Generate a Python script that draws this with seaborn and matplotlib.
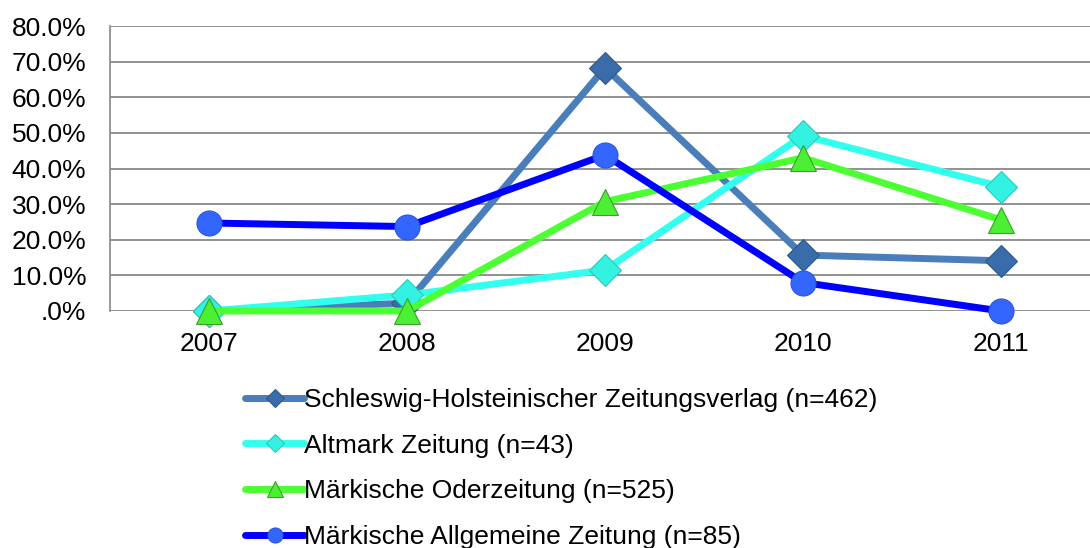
import numpy as np
import pandas as pd
import matplotlib
matplotlib.use("Agg")
import matplotlib.pyplot as plt
import seaborn as sns
from matplotlib.ticker import FuncFormatter, FixedLocator

years = [2007, 2008, 2009, 2010, 2011]
shz = [0.0, 0.022, 0.683, 0.157, 0.141]
altmark = [0.0, 0.045, 0.115, 0.492, 0.349]
oder = [0.0, 0.0, 0.307, 0.430, 0.256]
maz = [0.247, 0.237, 0.438, 0.080, 0.0]

labels = [
    "Schleswig-Holsteinischer Zeitungsverlag (n=462)",
    "Altmark Zeitung (n=43)",
    "Märkische Oderzeitung (n=525)",
    "Märkische Allgemeine Zeitung (n=85)",
]

# line colour, marker, marker face, marker edge, marker size
styles = [
    ("#4A7EBB", "D", "#3A6CA9", "#2F5A8E", 16),
    ("#33FFEE", "D", "#33F2E2", "#2BC9BC", 16),
    ("#4CFF33", "^", "#4CF033", "#3C9E2C", 19),
    ("#0000FF", "o", "#3366FF", "#2A55D8", 18),
]

sns.set_style("white")
plt.rcParams["font.family"] = ["Liberation Sans", "DejaVu Sans"]
plt.rcParams["text.color"] = "black"

fig = plt.figure(figsize=(10.9, 5.48), dpi=100)
ax = fig.add_axes([110 / 1090, 1 - 311 / 548, 990 / 1090, 285 / 548])

for vals, lab, (lc, mk, mf, me, ms) in zip([shz, altmark, oder, maz], labels, styles):
    sns.lineplot(
        x=years,
        y=vals,
        ax=ax,
        color=lc,
        linewidth=5,
        marker=mk,
        markersize=ms,
        markerfacecolor=mf,
        markeredgecolor=me,
        markeredgewidth=0.8,
        label=lab,
        clip_on=False,
        zorder=3,
    )

ax.set_xlim(2006.5, 2011.5)
ax.set_ylim(0, 0.8)
ax.set_yticks(np.arange(0, 0.81, 0.1))
ax.yaxis.set_major_formatter(
    FuncFormatter(lambda v, p: ".0%" if abs(v) < 1e-9 else f"{v * 100:.1f}%")
)
ax.set_xticks(years)
ax.set_xticklabels([str(y) for y in years])
ax.xaxis.set_minor_locator(FixedLocator(np.arange(2006.5, 2011.6, 1.0)))
ax.tick_params(axis="x", which="major", length=0, pad=15, labelsize=19, labelcolor="black")
ax.tick_params(axis="x", which="minor", length=6, width=1, color="#888888", direction="out")
ax.tick_params(axis="y", length=7, width=1, color="#888888", direction="out", pad=10,
               labelsize=19, labelcolor="black")

ax.grid(axis="y", color="#888888", linewidth=1.3)
ax.set_axisbelow(True)
for side in ["top", "right", "bottom"]:
    ax.spines[side].set_visible(False)
ax.spines["left"].set_color("#888888")
ax.spines["left"].set_linewidth(1.2)
ax.set_xlabel("")
ax.set_ylabel("")

leg = ax.legend(
    loc="upper left",
    bbox_to_anchor=(245 / 1090, 1 - 388 / 548),
    bbox_transform=fig.transFigure,
    frameon=False,
    fontsize=19,
    handlelength=2.25,
    handletextpad=0.0,
    labelspacing=0.82,
    borderpad=0,
    borderaxespad=0,
    markerscale=0.6,
)
for t in leg.get_texts():
    t.set_color("black")

fig.savefig("out.png", dpi=100)
